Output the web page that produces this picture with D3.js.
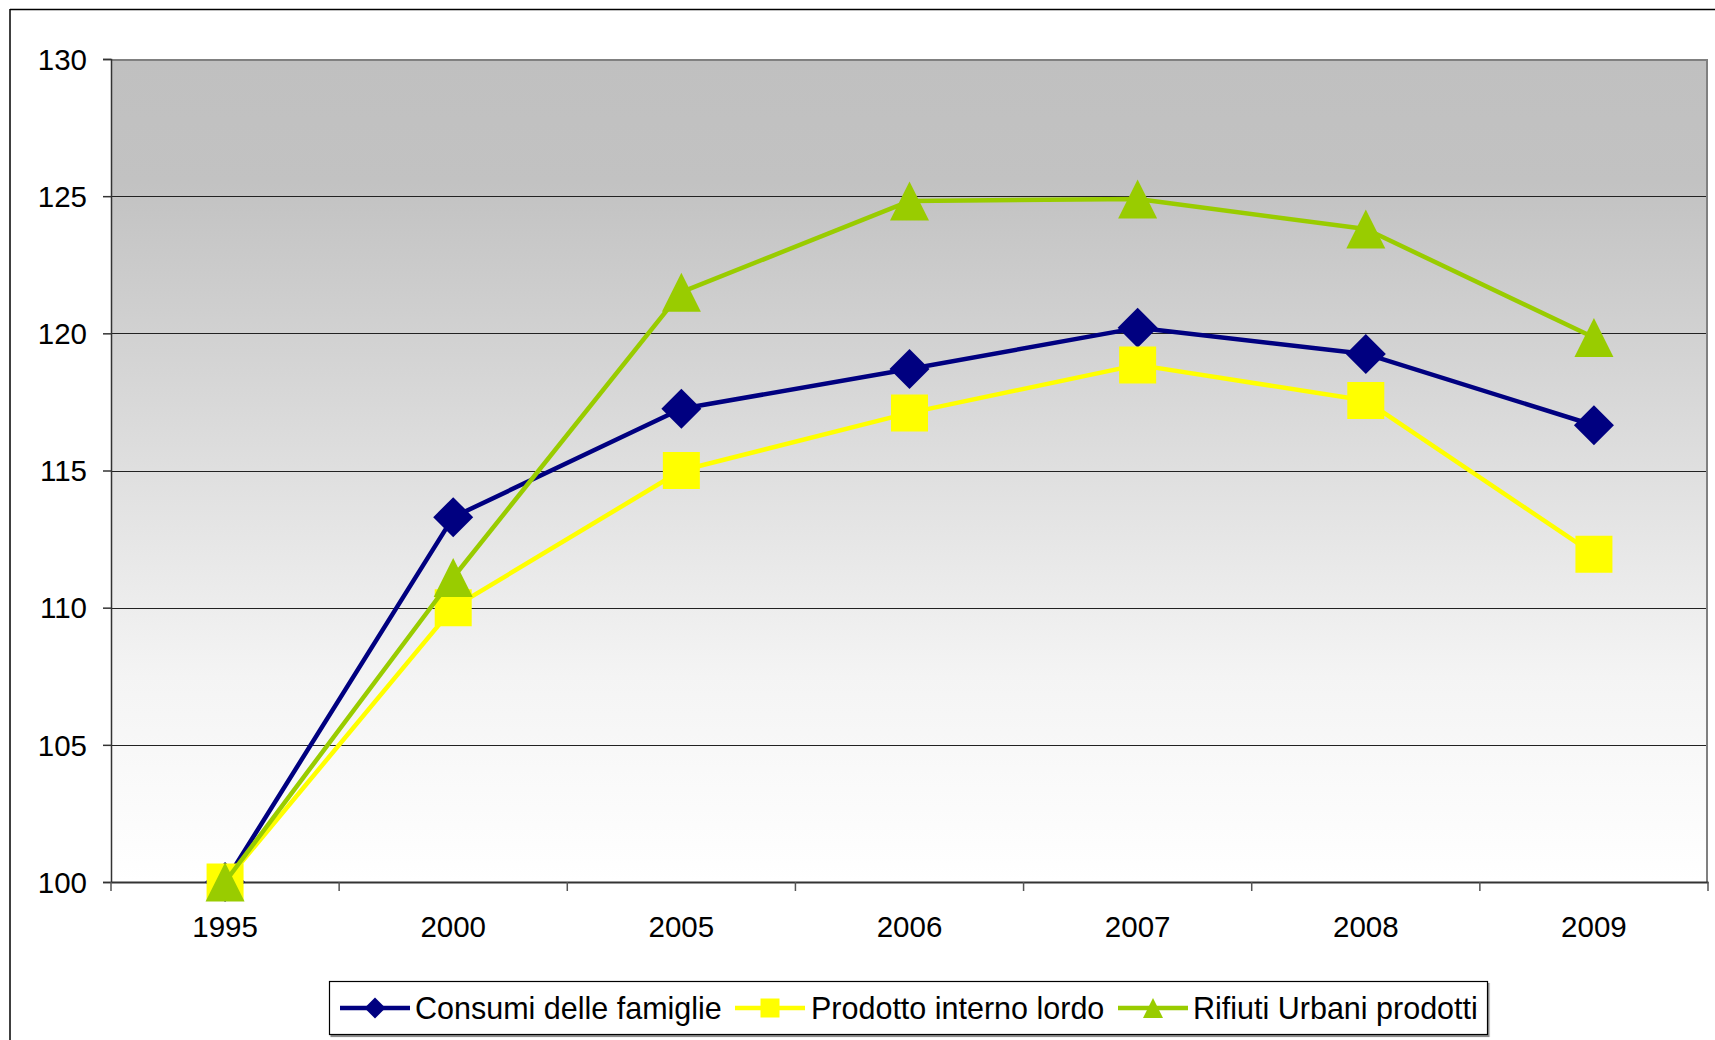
<!DOCTYPE html>
<html>
<head>
<meta charset="utf-8">
<script src="https://cdn.jsdelivr.net/npm/d3@7"></script>
<style>
  html, body { margin: 0; padding: 0; background: #ffffff; }
  svg { display: block; }
  text { font-family: "Liberation Sans", Arial, sans-serif; fill: #000; }
</style>
</head>
<body>
<svg id="chart" width="1715" height="1040"></svg>
<script>
// ---- Data ----
const years = ["1995", "2000", "2005", "2006", "2007", "2008", "2009"];
const consumi = [100, 113.3, 117.25, 118.7, 120.2, 119.25, 116.65];
const pil = [100, 110.0, 115.0, 117.1, 118.85, 117.55, 111.95];
const rifiuti = [100, 111.1, 121.5, 124.82, 124.9, 123.8, 119.85];
const yTicks = [100, 105, 110, 115, 120, 125, 130];
const seriesNames = ["Consumi delle famiglie", "Prodotto interno lordo", "Rifiuti Urbani prodotti"];

// ---- Layout ----
const W = 1715, H = 1040;
const plot = { left: 111, right: 1708, top: 59, bottom: 882 };
const svg = d3.select("#chart");

const x = d3.scaleBand().domain(years).range([plot.left, plot.right]).padding(0);
const y = d3.scaleLinear().domain([100, 130]).range([plot.bottom, plot.top]);

// custom symbols
const diamondSym = { draw(ctx, size) { const r = Math.sqrt(size) / 2; ctx.moveTo(0, -r); ctx.lineTo(r, 0); ctx.lineTo(0, r); ctx.lineTo(-r, 0); ctx.closePath(); } };
const squareSym = { draw(ctx, size) { const r = Math.sqrt(size) / 2; ctx.rect(-r, -r, 2 * r, 2 * r); } };
const triSym = { draw(ctx, size) { const r = Math.sqrt(size) / 2; ctx.moveTo(0, -r); ctx.lineTo(r, r); ctx.lineTo(-r, r); ctx.closePath(); } };

const series = [
  { name: seriesNames[0], values: consumi, color: "#000080", sym: diamondSym, size: 40 * 40, lsize: 21 * 21 },
  { name: seriesNames[1], values: pil, color: "#ffff00", sym: squareSym, size: 37 * 37, lsize: 19 * 19 },
  { name: seriesNames[2], values: rifiuti, color: "#99cc00", sym: triSym, size: 39 * 39, lsize: 20 * 20 }
];

// ---- Outer frame ----
svg.append("line").attr("x1", 10).attr("x2", W).attr("y1", 9.5).attr("y2", 9.5)
  .attr("stroke", "#000").attr("stroke-width", 1.5);
svg.append("line").attr("x1", 10).attr("x2", 10).attr("y1", 9).attr("y2", H)
  .attr("stroke", "#000").attr("stroke-width", 1.5);

// ---- Plot background gradient ----
const defs = svg.append("defs");
const grad = defs.append("linearGradient").attr("id", "bg").attr("x1", 0).attr("y1", 0).attr("x2", 0).attr("y2", 1);
grad.append("stop").attr("offset", "0%").attr("stop-color", "#c0c0c0");
grad.append("stop").attr("offset", "15%").attr("stop-color", "#c2c2c2");
grad.append("stop").attr("offset", "75%").attr("stop-color", "#f4f4f4");
grad.append("stop").attr("offset", "100%").attr("stop-color", "#ffffff");

const shadow = defs.append("filter").attr("id", "shadow").attr("x", "-5%").attr("y", "-20%").attr("width", "110%").attr("height", "150%");
shadow.append("feDropShadow").attr("dx", 1.5).attr("dy", 2).attr("stdDeviation", 0.4).attr("flood-color", "#000").attr("flood-opacity", 0.45);

svg.append("rect")
  .attr("x", plot.left).attr("y", plot.top)
  .attr("width", plot.right - plot.left).attr("height", plot.bottom - plot.top)
  .attr("fill", "url(#bg)");

// gridlines
svg.append("g").selectAll("line")
  .data(yTicks.filter(v => v > 100 && v < 130))
  .join("line")
  .attr("x1", plot.left).attr("x2", plot.right)
  .attr("y1", d => Math.round(y(d)) + 0.5).attr("y2", d => Math.round(y(d)) + 0.5)
  .attr("stroke", "#222").attr("stroke-width", 1);

// plot border top/right
svg.append("path")
  .attr("d", `M${plot.left},${plot.top + 1}H${plot.right - 1}V${plot.bottom}`)
  .attr("fill", "none").attr("stroke", "#808080").attr("stroke-width", 2);

// ---- Y axis ----
const yAxis = d3.axisLeft(y).tickValues(yTicks).tickSize(8).tickPadding(16).tickFormat(d3.format("d"));
const gy = svg.append("g").attr("transform", `translate(${plot.left},0)`).call(yAxis);
gy.select(".domain").attr("stroke", "#333").attr("stroke-width", 1.5);
gy.selectAll(".tick line").attr("stroke", "#333").attr("stroke-width", 1.5);
gy.selectAll(".tick text").style("font-size", "29.5px").style("font-family", "'Liberation Sans', Arial, sans-serif").attr("fill", "#000").attr("dy", "0.35em");

// ---- X axis ----
const xAxis = d3.axisBottom(x).tickSize(0).tickPadding(34);
const gx = svg.append("g").attr("transform", `translate(0,${plot.bottom})`).call(xAxis);
gx.select(".domain").attr("stroke", "#333").attr("stroke-width", 2);
gx.selectAll(".tick text").style("font-size", "29.5px").style("font-family", "'Liberation Sans', Arial, sans-serif").attr("fill", "#000").attr("dy", "0.71em");
// tick marks at band boundaries
const bounds = years.map(d => x(d)).concat([x(years[years.length - 1]) + x.bandwidth()]);
svg.append("g").selectAll("line").data(bounds).join("line")
  .attr("x1", d => d).attr("x2", d => d)
  .attr("y1", plot.bottom).attr("y2", plot.bottom + 9)
  .attr("stroke", "#555").attr("stroke-width", 1.5);

// ---- Series ----
const cx = d => x(d) + x.bandwidth() / 2;
series.forEach(s => {
  const pts = years.map((yr, i) => [cx(yr), y(s.values[i])]);
  svg.append("path")
    .attr("d", d3.line()(pts))
    .attr("fill", "none").attr("stroke", s.color).attr("stroke-width", 4.5).attr("stroke-linejoin", "round");
  svg.append("g").selectAll("path").data(pts).join("path")
    .attr("transform", d => `translate(${d[0]},${d[1]})`)
    .attr("d", d3.symbol().type(s.sym).size(s.size)())
    .attr("fill", s.color);
});

// ---- Legend ----
const legend = svg.append("g");
legend.append("rect")
  .attr("x", 329.5).attr("y", 981.5).attr("width", 1158).attr("height", 53)
  .attr("fill", "#fff").attr("stroke", "#000").attr("stroke-width", 1.2)
  .attr("filter", "url(#shadow)");
const legY = 1008;
const legItems = [
  { lx1: 340, lx2: 410, tx: 415 },
  { lx1: 735, lx2: 805, tx: 811 },
  { lx1: 1118, lx2: 1188, tx: 1193 }
];
series.forEach((s, i) => {
  const it = legItems[i];
  legend.append("line").attr("x1", it.lx1).attr("x2", it.lx2).attr("y1", legY).attr("y2", legY)
    .attr("stroke", s.color).attr("stroke-width", 4.5);
  legend.append("path")
    .attr("transform", `translate(${(it.lx1 + it.lx2) / 2},${legY})`)
    .attr("d", d3.symbol().type(s.sym).size(s.lsize)())
    .attr("fill", s.color);
  legend.append("text").attr("x", it.tx).attr("y", legY).attr("dy", "0.35em")
    .style("font-size", "30.5px").text(s.name);
});
</script>
</body>
</html>
